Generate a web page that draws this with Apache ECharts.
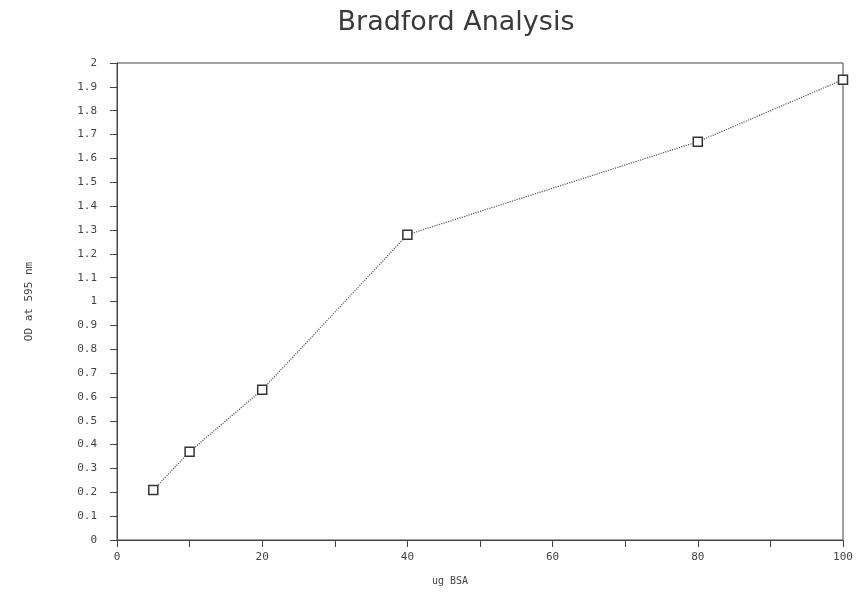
<!DOCTYPE html>
<html>
<head>
<meta charset="utf-8">
<script src="https://cdn.jsdelivr.net/npm/echarts@6/dist/echarts.min.js"></script>
<style>
  html, body { margin: 0; padding: 0; background: #fff; }
  #chart { width: 859px; height: 608px; }
</style>
</head>
<body>
<div id="chart"></div>
<script>
// ug BSA on the x axis, OD at 595 nm on the y axis
const bsaAmounts = [5, 10, 20, 40, 80, 100];
const odValues = [0.21, 0.37, 0.63, 1.28, 1.67, 1.93];

const chart = echarts.init(document.getElementById('chart'));

const option = {
  backgroundColor: '#fff',
  title: {
    text: 'Bradford Analysis',
    left: 451,
    top: 4,
    textAlign: 'center',
    textStyle: {
      fontFamily: 'DejaVu Sans',
      fontWeight: 'normal',
      fontSize: 27,
      color: '#3a3a3a'
    }
  },
  grid: {
    left: 117,
    right: 16,
    top: 63,
    bottom: 68,
    show: true,
    borderColor: '#444',
    borderWidth: 1
  },
  xAxis: {
    type: 'value',
    min: 0,
    max: 100,
    interval: 10,
    name: 'ug BSA',
    nameLocation: 'middle',
    nameGap: 36,
    nameTextStyle: {
      fontFamily: 'DejaVu Sans Mono',
      fontSize: 10,
      color: '#444',
      padding: [0, 60, 0, 0]
    },
    axisLine: { lineStyle: { color: '#444', width: 1 } },
    axisTick: { show: true, length: 7, lineStyle: { color: '#444' } },
    axisLabel: {
      margin: 12,
      fontFamily: 'DejaVu Sans Mono',
      fontSize: 11,
      color: '#444',
      formatter: v => (v % 20 === 0 ? String(v) : '')
    },
    splitLine: { show: false }
  },
  yAxis: {
    type: 'value',
    min: 0,
    max: 2,
    interval: 0.1,
    name: 'OD at 595 nm',
    nameLocation: 'middle',
    nameGap: 82,
    nameRotate: 90,
    nameTextStyle: { fontFamily: 'DejaVu Sans Mono', fontSize: 11, color: '#444' },
    axisLine: { show: true, lineStyle: { color: '#444', width: 1 } },
    axisTick: { show: true, length: 7, lineStyle: { color: '#444' } },
    axisLabel: {
      margin: 20,
      fontFamily: 'DejaVu Sans Mono',
      fontSize: 11,
      color: '#444',
      formatter: v => String(+v.toFixed(1))
    },
    splitLine: { show: false }
  },
  series: [
    {
      type: 'line',
      data: bsaAmounts.map((x, i) => [x, odValues[i]]),
      symbol: 'rect',
      symbolSize: 9,
      itemStyle: { color: '#fff', borderColor: '#333', borderWidth: 1.5 },
      lineStyle: { type: 'dotted', width: 1.2, color: '#555' },
      animation: false
    }
  ]
};

chart.setOption(option);
</script>
</body>
</html>
